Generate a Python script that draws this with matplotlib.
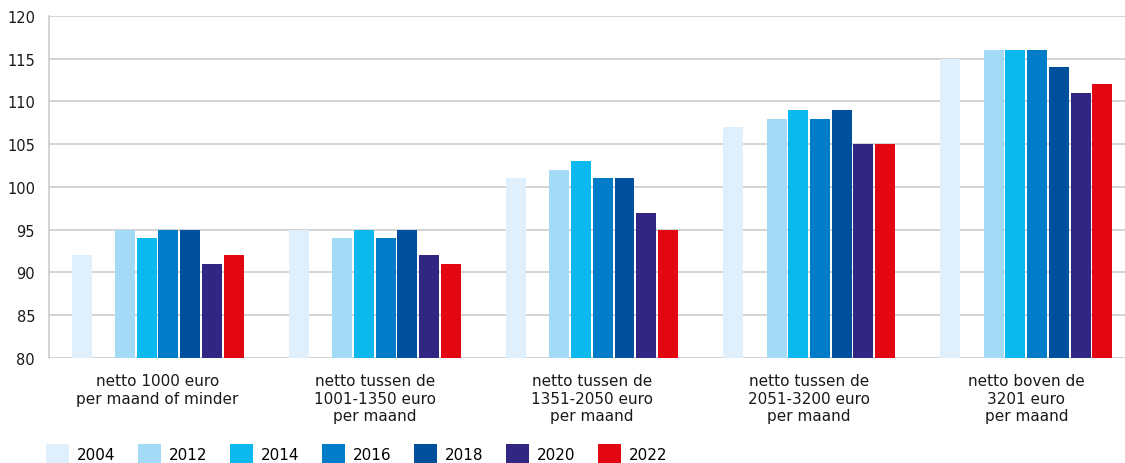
import numpy as np
import matplotlib
matplotlib.use("Agg")
import matplotlib.pyplot as plt
from matplotlib.patches import Patch

categories = [
    "netto 1000 euro\nper maand of minder",
    "netto tussen de\n1001-1350 euro\nper maand",
    "netto tussen de\n1351-2050 euro\nper maand",
    "netto tussen de\n2051-3200 euro\nper maand",
    "netto boven de\n3201 euro\nper maand",
]
years = ["2004", "2012", "2014", "2016", "2018", "2020", "2022"]
v2004 = [92, 95, 101, 107, 115]
v2012 = [95, 94, 102, 108, 116]
v2014 = [94, 95, 103, 109, 116]
v2016 = [95, 94, 101, 108, 116]
v2018 = [95, 95, 101, 109, 114]
v2020 = [91, 92, 97, 105, 111]
v2022 = [92, 91, 95, 105, 112]
series = [v2004, v2012, v2014, v2016, v2018, v2020, v2022]
colors = ["#dfeffc", "#a3daf6", "#0bb9ee", "#007cc8", "#00509e", "#312782", "#e30613"]

plt.rcParams['font.family'] = 'DejaVu Sans'

fig = plt.figure(figsize=(11.25, 4.64), dpi=100)
# axes runs slightly past the right edge, as in the source
ax = fig.add_axes([0.0435, 0.2263, 0.9653, 0.7371])

x = np.arange(len(categories))
slot = 0.1
# 8 slots per group; slot 1 (after 2004) is left empty
slots = [0, 2, 3, 4, 5, 6, 7]
for s, vals, c, yr in zip(slots, series, colors, years):
    off = (s - 3.5) * slot
    ax.bar(x + off, np.array(vals) - 80, bottom=80, width=0.092,
           color=c, label=yr, zorder=3)

ax.set_xlim(-0.5, len(categories) - 0.5)
ax.set_ylim(80, 120)
ax.set_yticks(range(80, 121, 5))
ax.tick_params(axis='y', length=0, labelsize=10.5, colors='#1a1a1a', pad=10)
ax.grid(axis='y', color='#cccccc', linewidth=1.2, zorder=0)
ax.set_xticks(x)
ax.set_xticklabels(categories, fontsize=11, color='#1a1a1a', linespacing=1.2)
ax.tick_params(axis='x', length=0, pad=11)
for sp in ['top', 'right', 'bottom']:
    ax.spines[sp].set_visible(False)
ax.spines['left'].set_color('#cccccc')
ax.spines['left'].set_linewidth(1.2)

handles = [Patch(facecolor=c, edgecolor='none') for c in colors]
fig.legend(handles, years, loc='lower left', bbox_to_anchor=(0.041, 0.0),
           ncol=7, frameon=False, fontsize=11, handlelength=1.5,
           handleheight=1.5, columnspacing=1.5, handletextpad=0.5,
           borderaxespad=0, borderpad=0)

fig.savefig("out.png", dpi=100)
